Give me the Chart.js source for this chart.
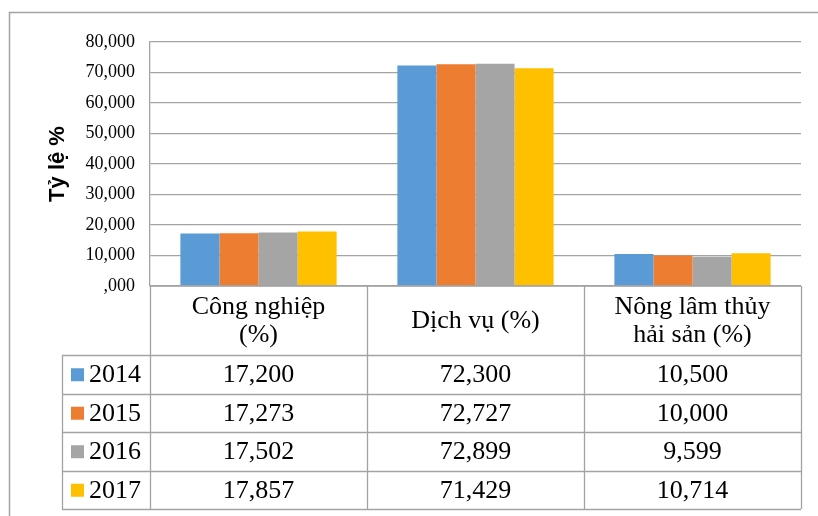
<!DOCTYPE html>
<html>
<head>
<meta charset="utf-8">
<script src="https://cdn.jsdelivr.net/npm/chart.js@4.4.1/dist/chart.umd.min.js"></script>
<style>
  html, body { margin: 0; padding: 0; background: #fff; }
  #wrap { width: 818px; height: 516px; }
</style>
</head>
<body>
<div id="wrap"><canvas id="chart" width="818" height="516"></canvas></div>
<script>
const categories = [['Công nghiệp', '(%)'], ['Dịch vụ (%)'], ['Nông lâm thủy', 'hải sản (%)']]
const years = ['2014', '2015', '2016', '2017']
const values2014 = [17.2, 72.3, 10.5]
const values2015 = [17.273, 72.727, 10.0]
const values2016 = [17.502, 72.899, 9.599]
const values2017 = [17.857, 71.429, 10.714]
const colors = ['#5B9BD5', '#ED7D31', '#A5A5A5', '#FFC000']
const yTicks = [0, 10, 20, 30, 40, 50, 60, 70, 80]

const series = [values2014, values2015, values2016, values2017]
const fmt = (v) => (v === 0 ? ',000' : v.toFixed(3).replace('.', ','))

const lineColor = '#a3a3a3'
const serif = '"Liberation Serif", "Times New Roman", serif'

// draws the frame and the data table under the plot, using the x scale positions
const tablePlugin = {
  id: 'dataTable',
  afterDraw(chart) {
    const ctx = chart.ctx
    const area = chart.chartArea
    const xs = chart.scales.x
    const step = xs.getPixelForValue(1) - xs.getPixelForValue(0)
    const legendLeft = 62
    const headerBottom = 355
    const rowH = 38.5
    const tableBottom = headerBottom + rowH * years.length

    ctx.save()
    // outer frame
    ctx.strokeStyle = lineColor
    ctx.lineWidth = 1.5
    ctx.strokeRect(9.5, 12.5, 830, 530)

    ctx.lineWidth = 1.3
    ctx.beginPath()
    ctx.moveTo(area.left, area.bottom)
    ctx.lineTo(area.right, area.bottom)
    for (let r = 0; r <= years.length; r++) {
      const y = Math.round(headerBottom + r * rowH) + 0.5
      ctx.moveTo(legendLeft, y)
      ctx.lineTo(area.right, y)
    }
    ctx.moveTo(legendLeft + 0.5, headerBottom)
    ctx.lineTo(legendLeft + 0.5, tableBottom)
    for (let i = 0; i <= categories.length; i++) {
      const x = Math.round(xs.getPixelForValue(0) - step / 2 + i * step) + 0.5
      ctx.moveTo(x, area.bottom)
      ctx.lineTo(x, tableBottom)
    }
    ctx.stroke()

    ctx.fillStyle = '#000'
    ctx.font = '26px ' + serif
    ctx.textAlign = 'center'
    ctx.textBaseline = 'middle'
    const headMid = (area.bottom + headerBottom) / 2 + 1
    categories.forEach((lines, i) => {
      const cx = xs.getPixelForValue(i)
      lines.forEach((t, k) => {
        ctx.fillText(t, cx, headMid + (k - (lines.length - 1) / 2) * 28)
      })
    })

    years.forEach((yr, r) => {
      const cy = headerBottom + rowH * (r + 0.5) + 1
      ctx.fillStyle = colors[r]
      ctx.fillRect(71, cy - 7, 13, 13)
      ctx.fillStyle = '#000'
      ctx.textAlign = 'left'
      ctx.fillText(yr, 89, cy)
      ctx.textAlign = 'center'
      series[r].forEach((v, i) => {
        ctx.fillText(fmt(v), xs.getPixelForValue(i), cy)
      })
    })
    ctx.restore()
  },
}

new Chart(document.getElementById('chart'), {
  type: 'bar',
  data: {
    labels: categories,
    datasets: years.map((yr, i) => ({
      label: yr,
      data: series[i],
      backgroundColor: colors[i],
      borderWidth: 0,
      categoryPercentage: 0.72,
      barPercentage: 1,
    })),
  },
  options: {
    responsive: false,
    animation: false,
    layout: { padding: { left: 9, top: 42, right: 17, bottom: 230 } },
    plugins: {
      legend: { display: false },
      tooltip: { enabled: false },
    },
    scales: {
      x: { display: false },
      y: {
        min: 0,
        max: 80,
        afterBuildTicks: (scale) => {
          scale.ticks = yTicks.map((v) => ({ value: v }))
        },
        afterFit: (scale) => {
          scale.width = 141
        },
        ticks: {
          padding: 15,
          color: '#000',
          font: { family: serif, size: 18 },
          callback: (v) => fmt(v),
        },
        grid: { color: lineColor, lineWidth: 1.3, drawTicks: false },
        border: { display: true, color: lineColor, width: 1.3 },
        title: {
          display: true,
          text: 'Tỷ lệ %',
          color: '#000',
          font: { family: '"Liberation Sans", Arial, sans-serif', size: 22, weight: 'bold' },
          padding: { top: 36, bottom: 0 },
        },
      },
    },
  },
  plugins: [tablePlugin],
})
</script>
</body>
</html>
